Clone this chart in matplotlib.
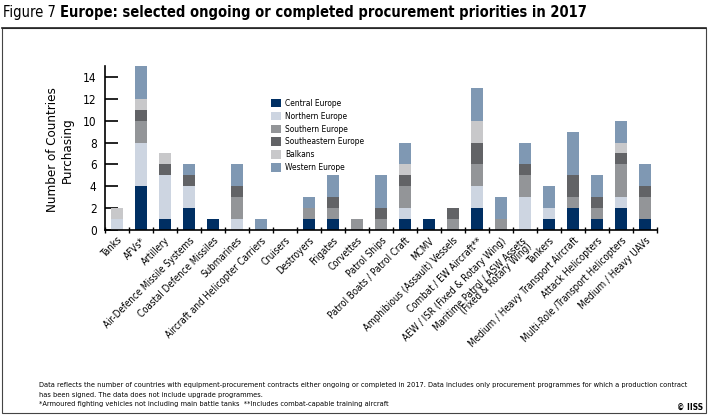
import matplotlib
matplotlib.use('Agg')
import matplotlib.pyplot as plt
import matplotlib.transforms as mtransforms
import numpy as np
from matplotlib.patches import Rectangle

plt.rcParams['font.family'] = ['DejaVu Sans']
plt.rcParams['font.stretch'] = 'condensed'

# categories
categories = ['Tanks', 'AFVs*', 'Artillery', 'Air-Defence Missile Systems', 'Coastal Defence Missiles',
              'Submarines', 'Aircraft and Helicopter Carriers', 'Cruisers', 'Destroyers', 'Frigates',
              'Corvettes', 'Patrol Ships', 'Patrol Boats / Patrol Craft', 'MCMV',
              'Amphibious (Assault) Vessels', 'Combat / EW Aircraft**', 'AEW / ISR (Fixed & Rotary Wing)',
              'Maritime Patrol / ASW Assets\n(Fixed & Rotary Wing)', 'Tankers',
              'Medium / Heavy Transport Aircraft', 'Attack Helicopters',
              'Multi-Role /Transport Helicopters', 'Medium / Heavy UAVs']

# series values (stacked bottom to top)
central      = [0, 4, 1, 2, 1, 0, 0, 0, 1, 1, 0, 0, 1, 1, 0, 2, 0, 0, 1, 2, 1, 2, 1]
northern     = [1, 4, 4, 2, 0, 1, 0, 0, 0, 0, 0, 0, 1, 0, 0, 2, 0, 3, 1, 0, 0, 1, 0]
southern     = [0, 2, 0, 0, 0, 2, 0, 0, 1, 1, 1, 1, 2, 0, 1, 2, 1, 2, 0, 1, 1, 3, 2]
southeastern = [0, 1, 1, 1, 0, 1, 0, 0, 0, 1, 0, 1, 1, 0, 1, 2, 0, 1, 0, 2, 1, 1, 1]
balkans      = [1, 1, 1, 0, 0, 0, 0, 0, 0, 0, 0, 0, 1, 0, 0, 2, 0, 0, 0, 0, 0, 1, 0]
western      = [0, 3, 0, 1, 0, 2, 1, 0, 1, 2, 0, 3, 2, 0, 0, 3, 2, 2, 2, 4, 2, 2, 2]

series = [
    ('Central Europe', central, '#002f63'),
    ('Northern Europe', northern, '#cdd5e1'),
    ('Southern Europe', southern, '#939598'),
    ('Southeastern Europe', southeastern, '#626366'),
    ('Balkans', balkans, '#c8c8ca'),
    ('Western Europe', western, '#7f98b3'),
]

fig = plt.figure(figsize=(7.09, 4.15), dpi=100)
ax = fig.add_axes([105/709, 1 - 230/415, 552/709, 164/415])

x = np.arange(len(categories))
bottom = np.zeros(len(categories))
for name, vals, col in series:
    ax.bar(x, vals, 0.5, bottom=bottom, color=col, label=name, zorder=2)
    bottom += np.array(vals)

ax.set_xlim(-0.5, len(categories) - 0.5)
ax.set_ylim(0, 15)
ax.set_yticks(range(0, 15, 2))
ax.tick_params(axis='y', direction='in', length=9, width=1.2, labelsize=8.5, pad=6)
ax.set_xticks(x)
ax.set_xticklabels(categories, rotation=45, ha='right', rotation_mode='anchor',
                   fontsize=7.0, multialignment='right', linespacing=0.8)
ax.set_xticks(np.arange(-0.5, len(categories), 1), minor=True)
ax.tick_params(axis='x', which='major', length=0, pad=4)
ax.tick_params(axis='x', which='minor', direction='inout', length=5, width=1)
for s in ['top', 'right']:
    ax.spines[s].set_visible(False)
ax.spines['left'].set_linewidth(1.2)
ax.spines['bottom'].set_linewidth(1.2)

# the two-line label sits a little left of its tick, as in the original
lab = ax.get_xticklabels()[17]
lab.set_transform(lab.get_transform() + mtransforms.ScaledTranslation(-0.04, 0, fig.dpi_scale_trans))

ax.legend(loc='upper left', bbox_to_anchor=(0.295, 0.82), frameon=False,
          prop={'size': 6}, handlelength=1.2, handleheight=1.2,
          labelspacing=0.45, handletextpad=0.5, borderaxespad=0)

fig.text(60/709, 1 - 150/415, 'Number of Countries\nPurchasing', rotation=90,
         ha='center', va='center', fontsize=9.5)

# title
t = fig.text(3/709, 1 - 12/415, 'Figure 7 ', fontsize=10.5, va='center', ha='left')
fig.canvas.draw()
bb = t.get_window_extent()
fig.text(bb.x1 / fig.bbox.width, 1 - 12/415,
         'Europe: selected ongoing or completed procurement priorities in 2017',
         fontsize=10.5, fontweight='bold', va='center', ha='left')

# frame
fig.add_artist(plt.Line2D([2/709, 706/709], [1 - 28/415, 1 - 28/415], color='#222222', lw=1.2))
fig.add_artist(Rectangle((2/709, 2/415), 704/709, 1 - 30/415, fill=False,
                         edgecolor='#444444', lw=0.8, transform=fig.transFigure))

foot_lines = [
    'Data reflects the number of countries with equipment-procurement contracts either ongoing or completed in 2017. '
    'Data includes only procurement programmes for which a production contract',
    'has been signed. The data does not include upgrade programmes.',
    '*Armoured fighting vehicles not including main battle tanks  **Includes combat-capable training aircraft',
]
for i, line in enumerate(foot_lines):
    fig.text(39/709, 1 - (385 + 9.5 * i)/415, line, fontsize=5.35, va='center', ha='left')
fig.text(703/709, 1 - 407/415, '© IISS', fontsize=6, fontweight='bold', va='center', ha='right')

fig.savefig('out.png', dpi=100)
